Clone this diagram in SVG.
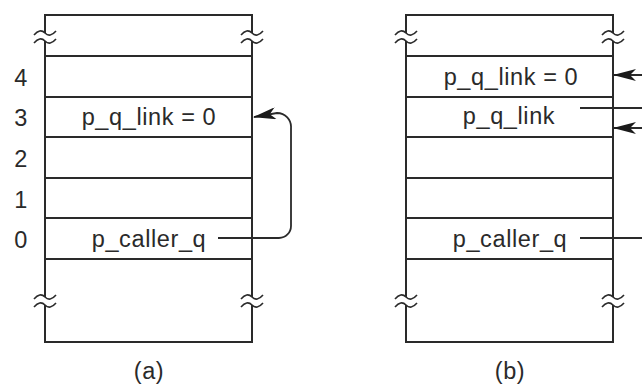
<svg xmlns="http://www.w3.org/2000/svg" xmlns:xlink="http://www.w3.org/1999/xlink" width="642" height="385" viewBox="0 0 642 385">
<style>
.cell{fill:#fff;stroke:#2a2a2a;stroke-width:2}
.t{font-family:"Liberation Sans",Arial,sans-serif;font-size:23.5px;fill:#2a2a2a;letter-spacing:0.6px}
.c{text-anchor:middle}
.conn{fill:none;stroke:#2a2a2a;stroke-width:1.8}
.tl{fill:none;stroke:#2a2a2a;stroke-width:1.6}
</style>
<defs>
<marker id="ah" markerUnits="userSpaceOnUse" markerWidth="24" markerHeight="12" refX="22" refY="6" orient="auto" viewBox="0 0 24 12">
<path d="M0,0 L23,6 L0,12 L6,6 Z" fill="#1a1a1a"/>
</marker>
<g id="brk">
<rect x="-4" y="-4" width="8" height="8" fill="#fff"/>
<path class="tl" d="M-11,-2 Q-5,-9 0,-4 T11,-6"/>
<path class="tl" d="M-11,6 Q-5,-1 0,4 T11,2"/>
</g>
</defs>

<g id="stack-a">
<g id="a-top"><rect class="cell" x="45" y="15" width="207" height="41"/></g>
<g id="a-row4"><rect class="cell" x="45" y="56" width="207" height="41"/></g>
<g id="a-row3"><rect class="cell" x="45" y="97" width="207" height="40"/><text class="t c" x="149" y="125">p_q_link = 0</text></g>
<g id="a-row2"><rect class="cell" x="45" y="137" width="207" height="41"/></g>
<g id="a-row1"><rect class="cell" x="45" y="178" width="207" height="40"/></g>
<g id="a-row0"><rect class="cell" x="45" y="218" width="207" height="41"/><text class="t c" x="149" y="247">p_caller_q</text></g>
<g id="a-bottom"><rect class="cell" x="45" y="259" width="207" height="83"/></g>
<use href="#brk" xlink:href="#brk" x="45" y="37"/>
<use href="#brk" xlink:href="#brk" x="252" y="37"/>
<use href="#brk" xlink:href="#brk" x="45" y="301"/>
<use href="#brk" xlink:href="#brk" x="252" y="301"/>
<g id="a-labels">
<text class="t c" x="21" y="86">4</text>
<text class="t c" x="21" y="126">3</text>
<text class="t c" x="21" y="167">2</text>
<text class="t c" x="21" y="208">1</text>
<text class="t c" x="21" y="248">0</text>
</g>
<text class="t c" x="149" y="379">(a)</text>
</g>

<g id="stack-b">
<g id="b-top"><rect class="cell" x="406" y="15" width="207" height="41"/></g>
<g id="b-row4"><rect class="cell" x="406" y="56" width="207" height="41"/><text class="t c" x="511" y="85">p_q_link = 0</text></g>
<g id="b-row3"><rect class="cell" x="406" y="97" width="207" height="40"/><text class="t c" x="509" y="124">p_q_link</text></g>
<g id="b-row2"><rect class="cell" x="406" y="137" width="207" height="41"/></g>
<g id="b-row1"><rect class="cell" x="406" y="178" width="207" height="40"/></g>
<g id="b-row0"><rect class="cell" x="406" y="218" width="207" height="41"/><text class="t c" x="510" y="247">p_caller_q</text></g>
<g id="b-bottom"><rect class="cell" x="406" y="259" width="207" height="83"/></g>
<use href="#brk" xlink:href="#brk" x="406" y="37"/>
<use href="#brk" xlink:href="#brk" x="613" y="37"/>
<use href="#brk" xlink:href="#brk" x="406" y="301"/>
<use href="#brk" xlink:href="#brk" x="613" y="301"/>
<text class="t c" x="510" y="379">(b)</text>
</g>

<g id="connectors">
<path class="conn" marker-end="url(#ah)" d="M218,238 H279 A12,12 0 0 0 291,226 V128 A14,14 0 0 0 277,113 L254,117"/>
<path class="conn" marker-end="url(#ah)" d="M660,75 H614"/>
<path class="conn" d="M580,108 H660"/>
<path class="conn" marker-end="url(#ah)" d="M660,128 H614"/>
<path class="conn" d="M580,238 H660"/>
</g>
</svg>
